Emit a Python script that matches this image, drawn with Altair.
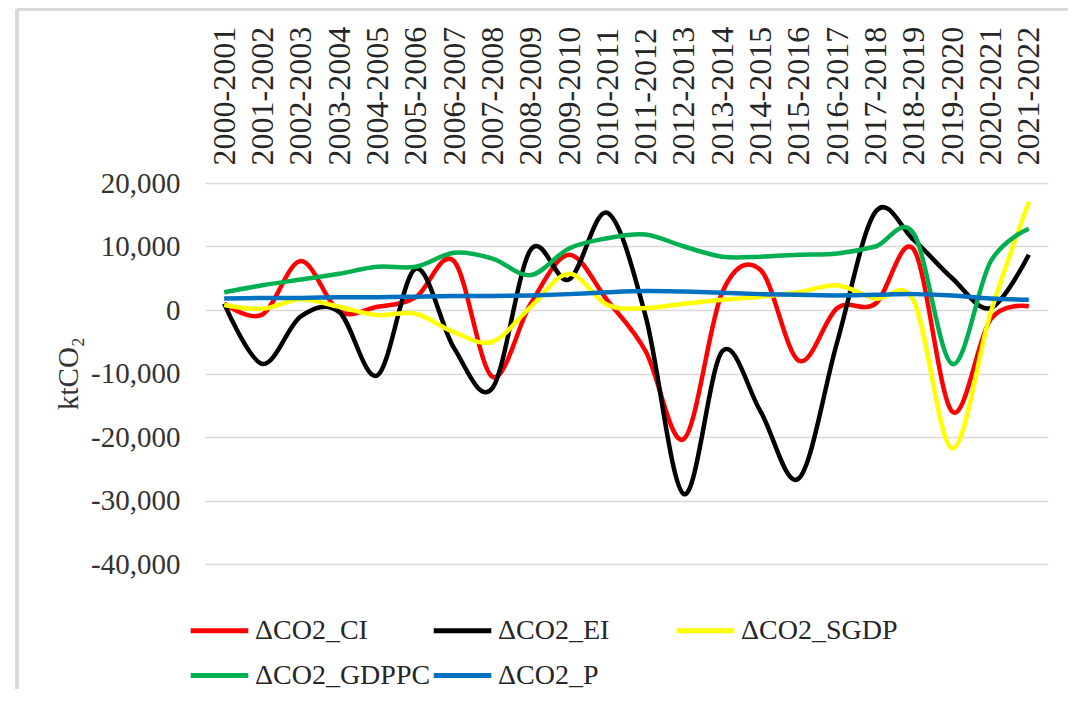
import altair as alt
import pandas as pd

periods = ["2000-2001", "2001-2002", "2002-2003", "2003-2004", "2004-2005", "2005-2006",
           "2006-2007", "2007-2008", "2008-2009", "2009-2010", "2010-2011", "2011-2012",
           "2012-2013", "2013-2014", "2014-2015", "2015-2016", "2016-2017", "2017-2018",
           "2018-2019", "2019-2020", "2020-2021", "2021-2022"]

series_names = ["ΔCO2_CI", "ΔCO2_EI", "ΔCO2_SGDP", "ΔCO2_GDPPC", "ΔCO2_P"]
series_colors = ["#FF0000", "#000000", "#FFFF00", "#00B050", "#0070C0"]

co2_ci = [1000, -700, 7700, -200, 500, 2000, 7700, -10500, 1000, 8700, 1500, -6500,
          -20300, 2800, 6300, -8000, 300, 1000, 9500, -16000, -1500, 600]
co2_ei = [1000, -8500, -1000, -300, -10300, 6500, -6000, -12300, 9500, 4800, 15300, -1000,
          -29000, -6500, -16000, -26500, -5000, 15500, 11000, 5000, 300, 8700]
co2_sgdp = [800, 200, 1700, 500, -800, -600, -3500, -5000, 500, 5700, 800, 300,
            1000, 1600, 2100, 2800, 3900, 1800, 1400, -21800, -500, 17000]
co2_gdppc = [2800, 3900, 4800, 5700, 6800, 6800, 9000, 8100, 5500, 9700, 11300, 11900,
             10000, 8400, 8400, 8700, 8900, 10000, 12000, -8500, 7600, 12800]
co2_p = [1800, 1900, 1900, 2000, 2000, 2100, 2200, 2200, 2300, 2500, 2800, 3000,
         2900, 2700, 2500, 2400, 2300, 2400, 2500, 2300, 1800, 1600]

y_ticks = [-40000, -30000, -20000, -10000, 0, 10000, 20000]

all_series = [co2_ci, co2_ei, co2_sgdp, co2_gdppc, co2_p]
rows = []
for name, vals in zip(series_names, all_series):
    for p, v in zip(periods, vals):
        rows.append({"period": p, "series": name, "value": v})
df = pd.DataFrame(rows)

FONT = "Liberation Serif"

lines = alt.Chart(df).mark_line(interpolate="cardinal", strokeWidth=4.5).encode(
    x=alt.X("period:O", sort=periods, title=None,
            scale=alt.Scale(type="point", padding=0.5),
            axis=alt.Axis(orient="top", labelAngle=-90, labelFontSize=32, labelFont=FONT,
                          labelColor="#262626", ticks=False, tickSize=0, domain=False,
                          grid=False, labelPadding=18)),
    y=alt.Y("value:Q", title="ktCO₂",
            scale=alt.Scale(domain=[-40000, 20000], nice=False, zero=False),
            axis=alt.Axis(values=y_ticks, ticks=False, tickSize=0, domain=False,
                          grid=True, gridColor="#D9D9D9", gridWidth=1.6,
                          labelFontSize=29, labelFont=FONT, labelColor="#333333",
                          labelPadding=25,
                          labelExpr="datum.value < 0 ? '-' + format(-datum.value, ',') : format(datum.value, ',')",
                          titleFont=FONT, titleFontSize=29, titleFontWeight="normal",
                          titleColor="#333333", titleAngle=-90, titleX=-137, titleY=190,
                          titleAlign="center", titleBaseline="middle")),
    color=alt.Color("series:N", sort=series_names,
                    scale=alt.Scale(domain=series_names, range=series_colors),
                    legend=alt.Legend(orient="none", legendX=-12, legendY=421, title=None,
                                      direction="horizontal", columns=3, gridAlign="all",
                                      symbolType="M-1.2,0H1.2", symbolSize=2304,
                                      symbolStrokeWidth=5, labelFont=FONT, labelFontSize=28,
                                      labelColor="#262626", labelOffset=9, columnPadding=-8,
                                      rowPadding=4, labelLimit=0)),
    order=alt.Order("series:N")
)

frame_left = alt.Chart(df).mark_rule(color="#D9D9D9", strokeWidth=2.5).encode(
    x=alt.value(-188), y=alt.value(-174), y2=alt.value(506))
frame_top = alt.Chart(df).mark_rule(color="#D9D9D9", strokeWidth=2.5).encode(
    x=alt.value(-188), x2=alt.value(863), y=alt.value(-174))

chart = alt.layer(frame_left, frame_top, lines).properties(
    width=843, height=381,
    autosize=alt.AutoSizeParams(type="none"),
    padding={"left": 197, "top": 175, "right": 20, "bottom": 125},
    background="white"
).configure_view(stroke=None)

chart.save("out.html", embed_options={"renderer": "svg", "actions": False})
